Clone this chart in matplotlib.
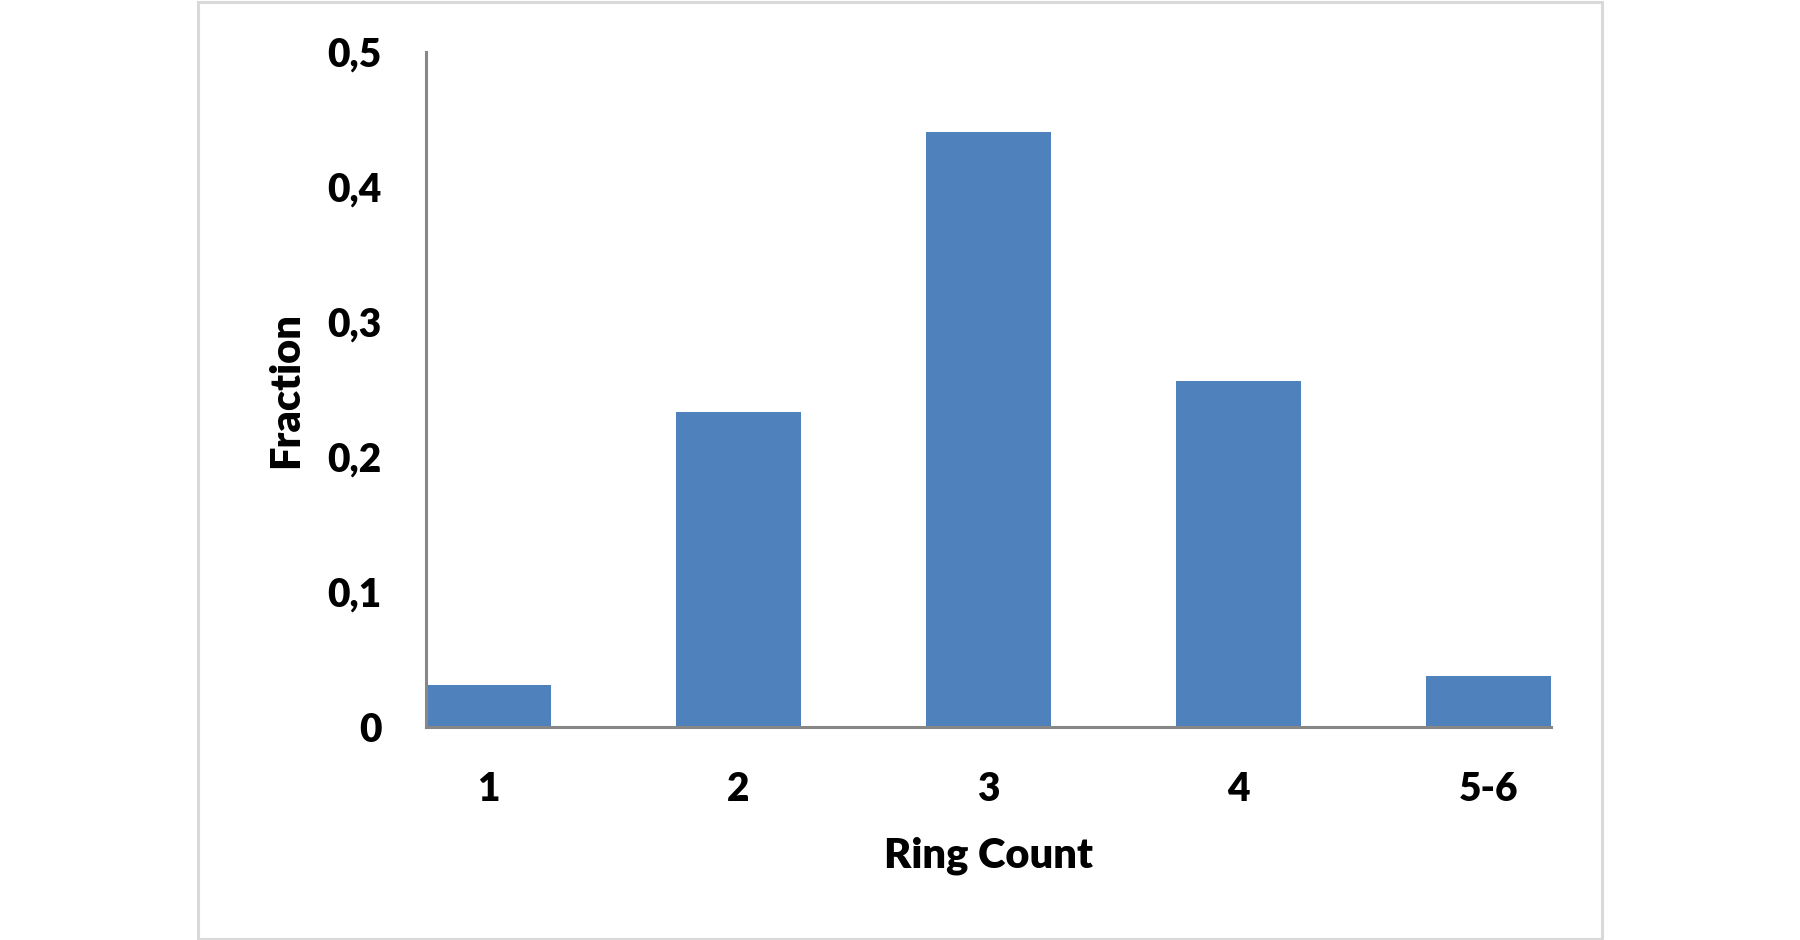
import matplotlib
matplotlib.use("Agg")
import matplotlib.pyplot as plt
from matplotlib.patches import Rectangle

categories = ["1", "2", "3", "4", "5-6"]
fractions = [0.031, 0.233, 0.441, 0.256, 0.038]
yticks = [0, 0.1, 0.2, 0.3, 0.4, 0.5]
ytick_labels = ["0", "0,1", "0,2", "0,3", "0,4", "0,5"]

W, H = 1800, 940
fig = plt.figure(figsize=(W / 100, H / 100), dpi=100)
plt.rcParams['font.family'] = ['Lato', 'DejaVu Sans']

# outer chart border
fig.patches.append(Rectangle((198 / W, 1.5 / H), (1602 - 198) / W, (938 - 1.5) / H,
                             transform=fig.transFigure, fill=False,
                             edgecolor="#d9d9d9", linewidth=2.2))

ax_l, ax_r, ax_t, ax_b = 426, 1551, 52, 727
ax = fig.add_axes([ax_l / W, 1 - ax_b / H, (ax_r - ax_l) / W, (ax_b - ax_t) / H])

x = list(range(len(categories)))
ax.bar(x, fractions, width=0.5, color="#4f81bd", zorder=2)
ax.set_xlim(-0.25, len(categories) - 0.75)
ax.set_ylim(0, 0.5)

ax.set_xticks(x)
ax.set_xticklabels(categories)
ax.set_yticks(yticks)
ax.set_yticklabels(ytick_labels)
ax.tick_params(axis="both", length=0, labelsize=28)
ax.tick_params(axis="x", pad=32)
ax.tick_params(axis="y", pad=32)
for lab in ax.get_xticklabels() + ax.get_yticklabels():
    lab.set_fontweight("heavy")

for s in ["top", "right"]:
    ax.spines[s].set_visible(False)
for s in ["left", "bottom"]:
    ax.spines[s].set_color("#878787")
    ax.spines[s].set_linewidth(2.2)

ax.set_xlabel("Ring Count", fontsize=30, fontweight="heavy", labelpad=20)
ax.set_ylabel("Fraction", fontsize=30, fontweight="heavy", labelpad=16)

fig.savefig("out.png", dpi=100, facecolor="white")
